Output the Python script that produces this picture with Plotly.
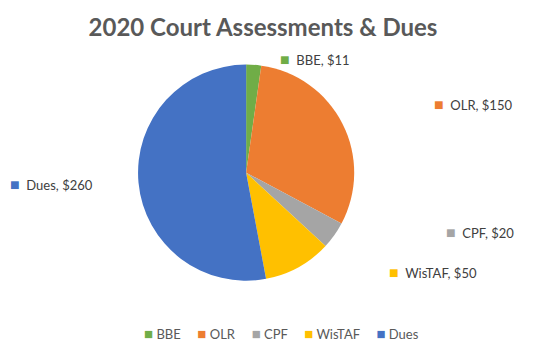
import plotly.graph_objects as go

categories = ["BBE", "OLR", "CPF", "WisTAF", "Dues"]
values = [11, 150, 20, 50, 260]
colors = ["#70AD47", "#ED7D31", "#A5A5A5", "#FFC000", "#4472C4"]

W, H = 550, 347

fig = go.Figure(go.Pie(
    labels=categories,
    values=values,
    textinfo="none",
    sort=False,
    direction="clockwise",
    rotation=0,
    marker=dict(colors=colors, line=dict(width=0)),
    domain=dict(x=[0.251, 0.644], y=[0.19, 0.815]),
    hoverinfo="label+value",
    showlegend=False,
))

# data label anchor positions (left edge of marker, pixel coords from top-left)
label_pos = {"BBE": (278, 58), "OLR": (432, 103), "CPF": (444, 231),
             "WisTAF": (387, 271), "Dues": (8, 183)}

for k, v, c in zip(categories, values, colors):
    px, py = label_pos[k]
    fig.add_annotation(
        x=px / W, y=1 - py / H, xref="paper", yref="paper",
        xanchor="left", yanchor="middle", showarrow=False,
        text=f"<span style='color:{c};font-size:16px'>■</span>  {k}, ${v}",
        font=dict(family="Lato", size=13, color="#404040"),
    )

legend_text = "     ".join(f"<span style='color:{c};font-size:15px'>■</span> {k}" for k, c in zip(categories, colors))
fig.add_annotation(
    x=281 / W, y=1 - 333 / H, xref="paper", yref="paper",
    xanchor="center", yanchor="middle", showarrow=False,
    text=legend_text,
    font=dict(family="Lato", size=13, color="#595959"),
)

fig.update_layout(
    width=W, height=H,
    margin=dict(l=0, r=0, t=0, b=0),
    paper_bgcolor="white",
    title=dict(text="<b>2020 Court Assessments & Dues</b>", x=263 / W, xanchor="center",
               y=1 - 28 / H, yanchor="middle",
               font=dict(family="Lato", size=24, color="#595959")),
    showlegend=False,
)

fig.write_html("out.html")
